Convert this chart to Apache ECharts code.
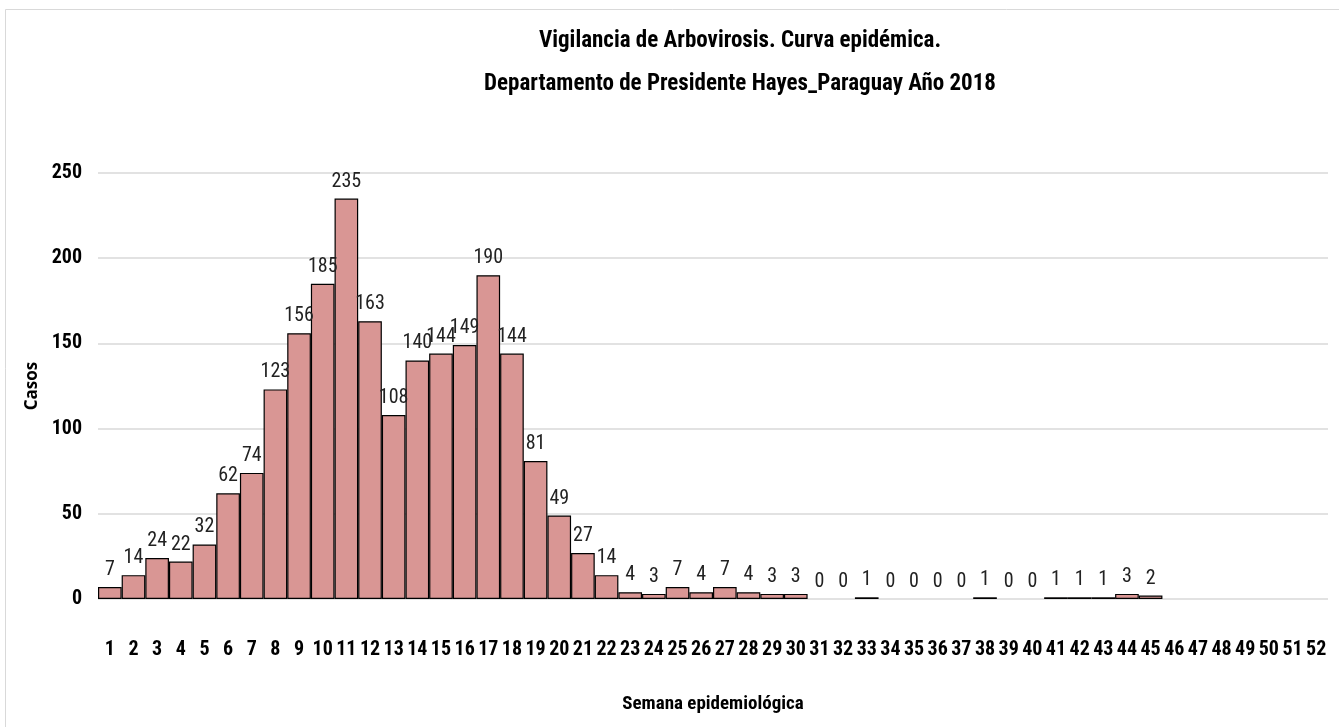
<!DOCTYPE html>
<html>
<head>
<meta charset="utf-8">
<script src="https://cdn.jsdelivr.net/npm/echarts@6/dist/echarts.min.js"></script>
<style>
  html, body { margin: 0; padding: 0; background: #fff; }
  #chart { width: 1339px; height: 727px; }
</style>
</head>
<body>
<div id="chart"></div>
<script>
// semanas epidemiológicas
const weeks = Array.from({ length: 52 }, (_, i) => String(i + 1))
// casos por semana (46-52 sin datos)
const cases = [7, 14, 24, 22, 32, 62, 74, 123, 156, 185, 235, 163, 108, 140, 144, 149, 190, 144, 81, 49,
  27, 14, 4, 3, 7, 4, 7, 4, 3, 3, 0, 0, 1, 0, 0, 0, 0, 1, 0, 0, 1, 1, 1, 3, 2,
  null, null, null, null, null, null, null]
const yTicks = [0, 50, 100, 150, 200, 250]

const narrow = '"Liberation Sans Narrow", "Roboto Condensed", "DejaVu Sans Condensed", sans-serif'

const chart = echarts.init(document.getElementById('chart'))

chart.setOption({
  backgroundColor: '#fff',
  animation: false,
  title: {
    text: 'Vigilancia de Arbovirosis. Curva epidémica.\nDepartamento de Presidente Hayes_Paraguay Año 2018',
    left: 735,
    top: 15,
    textAlign: 'center',
    textStyle: {
      fontFamily: narrow,
      fontWeight: 'bold',
      fontSize: 23,
      lineHeight: 43,
      color: '#000'
    }
  },
  graphic: [
    {
      type: 'rect',
      shape: { x: 5.5, y: 9.5, width: 1340, height: 730 },
      style: { fill: 'none', stroke: '#d9d9d9', lineWidth: 1 },
      silent: true
    }
  ],
  grid: {
    left: 98,
    right: 11,
    top: 173,
    bottom: 128
  },
  xAxis: {
    type: 'category',
    data: weeks,
    name: 'Semana epidemiológica',
    nameLocation: 'middle',
    nameGap: 96,
    nameTextStyle: {
      fontFamily: narrow,
      fontWeight: 'bold',
      fontSize: 19,
      color: '#000'
    },
    axisLine: { show: false },
    axisTick: { show: false },
    axisLabel: {
      interval: 0,
      margin: 41,
      fontFamily: narrow,
      fontWeight: 'bold',
      fontSize: 20,
      color: '#000'
    }
  },
  yAxis: {
    type: 'value',
    min: yTicks[0],
    max: yTicks[yTicks.length - 1],
    interval: 50,
    name: 'Casos',
    nameLocation: 'middle',
    nameGap: 57,
    nameTextStyle: {
      fontFamily: '"Open Sans", "DejaVu Sans", sans-serif',
      fontWeight: 'bold',
      fontSize: 17,
      color: '#000'
    },
    axisLabel: {
      margin: 16,
      fontFamily: narrow,
      fontWeight: 'bold',
      fontSize: 20,
      color: '#000'
    },
    splitLine: { lineStyle: { color: '#d9d9d9', width: 1.5 } }
  },
  series: [
    {
      type: 'bar',
      data: cases.map(v => (v === 0 ? { value: 0, itemStyle: { borderWidth: 0 } } : v)),
      barCategoryGap: '0%',
      itemStyle: {
        color: '#d99694',
        borderColor: '#000',
        borderWidth: 1.2
      },
      label: {
        show: true,
        position: 'top',
        distance: 7,
        fontFamily: narrow,
        fontSize: 20,
        color: '#222'
      }
    }
  ]
})
</script>
</body>
</html>
